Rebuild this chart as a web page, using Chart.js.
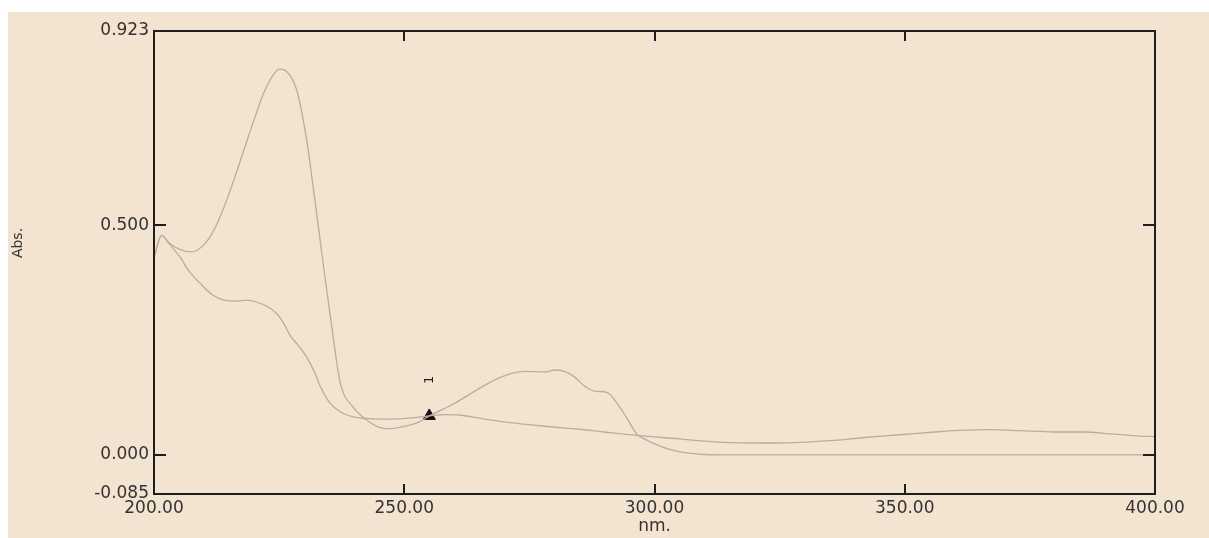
<!DOCTYPE html>
<html>
<head>
<meta charset="utf-8">
<script src="https://cdn.jsdelivr.net/npm/chart.js@4"></script>
<style>
  html, body { margin: 0; padding: 0; background: #ffffff; }
  #wrap { position: absolute; left: 8px; top: 12px; width: 1201px; height: 526px; background: #F3E3D1; }
</style>
</head>
<body>
<div id="wrap"><canvas id="spectrum"></canvas></div>
<script>
// 波長 (nm) と吸光度 — 2本のスペクトル
const nmA = [200, 201.5, 203, 205, 207.5, 210, 212, 214, 216, 218, 220, 222, 224, 225, 226.5, 228.5, 230.5, 231.8, 234, 235.5, 237.2, 239.8, 242.5, 245, 247, 250, 253, 255, 260, 265, 268, 271, 274, 278.5, 280, 282, 284, 286, 288, 290.5, 292.5, 294.5, 296.5, 298, 300, 303, 306, 310, 315, 350, 400];
const absA = [0.43, 0.478, 0.462, 0.448, 0.442, 0.458, 0.49, 0.54, 0.6, 0.665, 0.73, 0.79, 0.83, 0.84, 0.835, 0.795, 0.686, 0.583, 0.4, 0.28, 0.158, 0.104, 0.076, 0.06, 0.057, 0.062, 0.072, 0.085, 0.112, 0.145, 0.163, 0.176, 0.182, 0.181, 0.185, 0.182, 0.17, 0.15, 0.139, 0.136, 0.113, 0.08, 0.045, 0.035, 0.024, 0.012, 0.005, 0.001, 0, 0, 0];

const nmB = [200, 201.5, 203, 205.2, 207, 209.2, 211.5, 214, 216.5, 218.5, 220.5, 222.5, 224.5, 226, 227.2, 229, 230.5, 232, 233.2, 235, 237.2, 239.8, 243, 247, 251, 255, 258, 261, 265, 270, 278.5, 285, 290, 297, 305, 310, 315, 325, 335, 342, 349, 356, 362, 367, 373, 380, 386, 391, 397, 400];
const absB = [0.43, 0.478, 0.46, 0.431, 0.4, 0.374, 0.35, 0.337, 0.335, 0.337, 0.333, 0.324, 0.308, 0.285, 0.26, 0.236, 0.213, 0.182, 0.15, 0.115, 0.094, 0.083, 0.079, 0.078, 0.08, 0.085, 0.088, 0.087, 0.08, 0.072, 0.062, 0.056, 0.05, 0.042, 0.035, 0.03, 0.027, 0.026, 0.031, 0.038, 0.044, 0.05, 0.054, 0.055, 0.053, 0.05, 0.05, 0.046, 0.041, 0.04];

// ピークマーカー
const markerNm = [255];
const markerAbs = [0.085];
const markerLabel = "1";

// 目盛
const xTicks = [200, 250, 300, 350, 400];
const yTicks = [-0.085, 0, 0.5, 0.923];
const xMarks = [250, 300, 350];
const yMarks = [0, 0.5];

const toPoints = (xs, ys) => xs.map((x, i) => ({ x: x, y: ys[i] }));

const lineColor = "#BBAD9E";
const tickFont = { family: "DejaVu Sans", size: 17, lineHeight: 1 };

// 枠線・目盛線・ラベルを描く
const framePlugin = {
  id: "frame",
  afterDatasetsDraw(chart) {
    const { ctx, chartArea: a, scales } = chart;
    const x = scales.x, y = scales.y;
    ctx.save();
    ctx.strokeStyle = "#1e1e1e";
    ctx.lineWidth = 2;
    ctx.strokeRect(a.left, a.top, a.right - a.left, a.bottom - a.top);
    ctx.beginPath();
    xMarks.forEach(v => {
      const px = Math.round(x.getPixelForValue(v));
      ctx.moveTo(px, a.bottom); ctx.lineTo(px, a.bottom - 10);
      ctx.moveTo(px, a.top); ctx.lineTo(px, a.top + 10);
    });
    yMarks.forEach(v => {
      const py = Math.round(y.getPixelForValue(v));
      ctx.moveTo(a.left, py); ctx.lineTo(a.left + 12, py);
      ctx.moveTo(a.right, py); ctx.lineTo(a.right - 12, py);
    });
    ctx.stroke();

    // ピーク番号（横倒しの "1"）
    const mx = x.getPixelForValue(markerNm[0]);
    const my = y.getPixelForValue(markerAbs[0]);
    ctx.fillStyle = "#222";
    ctx.font = "13px 'DejaVu Sans'";
    ctx.textAlign = "center";
    ctx.textBaseline = "middle";
    ctx.translate(mx, my - 36);
    ctx.rotate(-Math.PI / 2);
    ctx.fillText(markerLabel, 0, 0);
    ctx.restore();

    // 縦軸タイトル
    ctx.save();
    ctx.fillStyle = "#333";
    ctx.font = "14px 'DejaVu Sans'";
    ctx.textAlign = "center";
    ctx.textBaseline = "middle";
    ctx.translate(10, 231);
    ctx.rotate(-Math.PI / 2);
    ctx.fillText("Abs.", 0, 0);
    ctx.restore();
  },
};

new Chart(document.getElementById("spectrum"), {
  type: "line",
  data: {
    datasets: [
      {
        label: "A",
        data: toPoints(nmA, absA),
        borderColor: lineColor,
        borderWidth: 1.3,
        pointRadius: 0,
        cubicInterpolationMode: "monotone",
      },
      {
        label: "B",
        data: toPoints(nmB, absB),
        borderColor: lineColor,
        borderWidth: 1.3,
        pointRadius: 0,
        cubicInterpolationMode: "monotone",
      },
      {
        label: "peak",
        data: toPoints(markerNm, markerAbs),
        showLine: false,
        pointStyle: "triangle",
        pointRadius: 7,
        pointBackgroundColor: "#111",
        pointBorderColor: "#111",
        pointBorderWidth: 1,
      },
    ],
  },
  options: {
    responsive: true,
    maintainAspectRatio: false,
    animation: false,
    layout: { padding: { top: 19, right: 54, left: 0, bottom: 0 } },
    plugins: { legend: { display: false }, tooltip: { enabled: false } },
    scales: {
      x: {
        type: "linear",
        min: 200,
        max: 400,
        grid: { display: false, drawTicks: false },
        border: { display: false },
        afterBuildTicks: s => { s.ticks = xTicks.map(v => ({ value: v })); },
        afterFit: s => { s.height = 44; },
        ticks: {
          padding: 6,
          color: "#333",
          font: tickFont,
          maxRotation: 0,
          callback: v => Number(v).toFixed(2),
        },
        title: {
          display: true,
          text: "nm.",
          color: "#333",
          font: tickFont,
          padding: { top: 0, bottom: 3 },
        },
      },
      y: {
        min: -0.085,
        max: 0.923,
        grid: { display: false, drawTicks: false },
        border: { display: false },
        afterBuildTicks: s => { s.ticks = yTicks.map(v => ({ value: v })); },
        afterFit: s => { s.width = 146; },
        ticks: {
          padding: 5,
          color: "#333",
          font: tickFont,
          callback: v => Number(v).toFixed(3),
        },
      },
    },
  },
  plugins: [framePlugin],
});
</script>
</body>
</html>
